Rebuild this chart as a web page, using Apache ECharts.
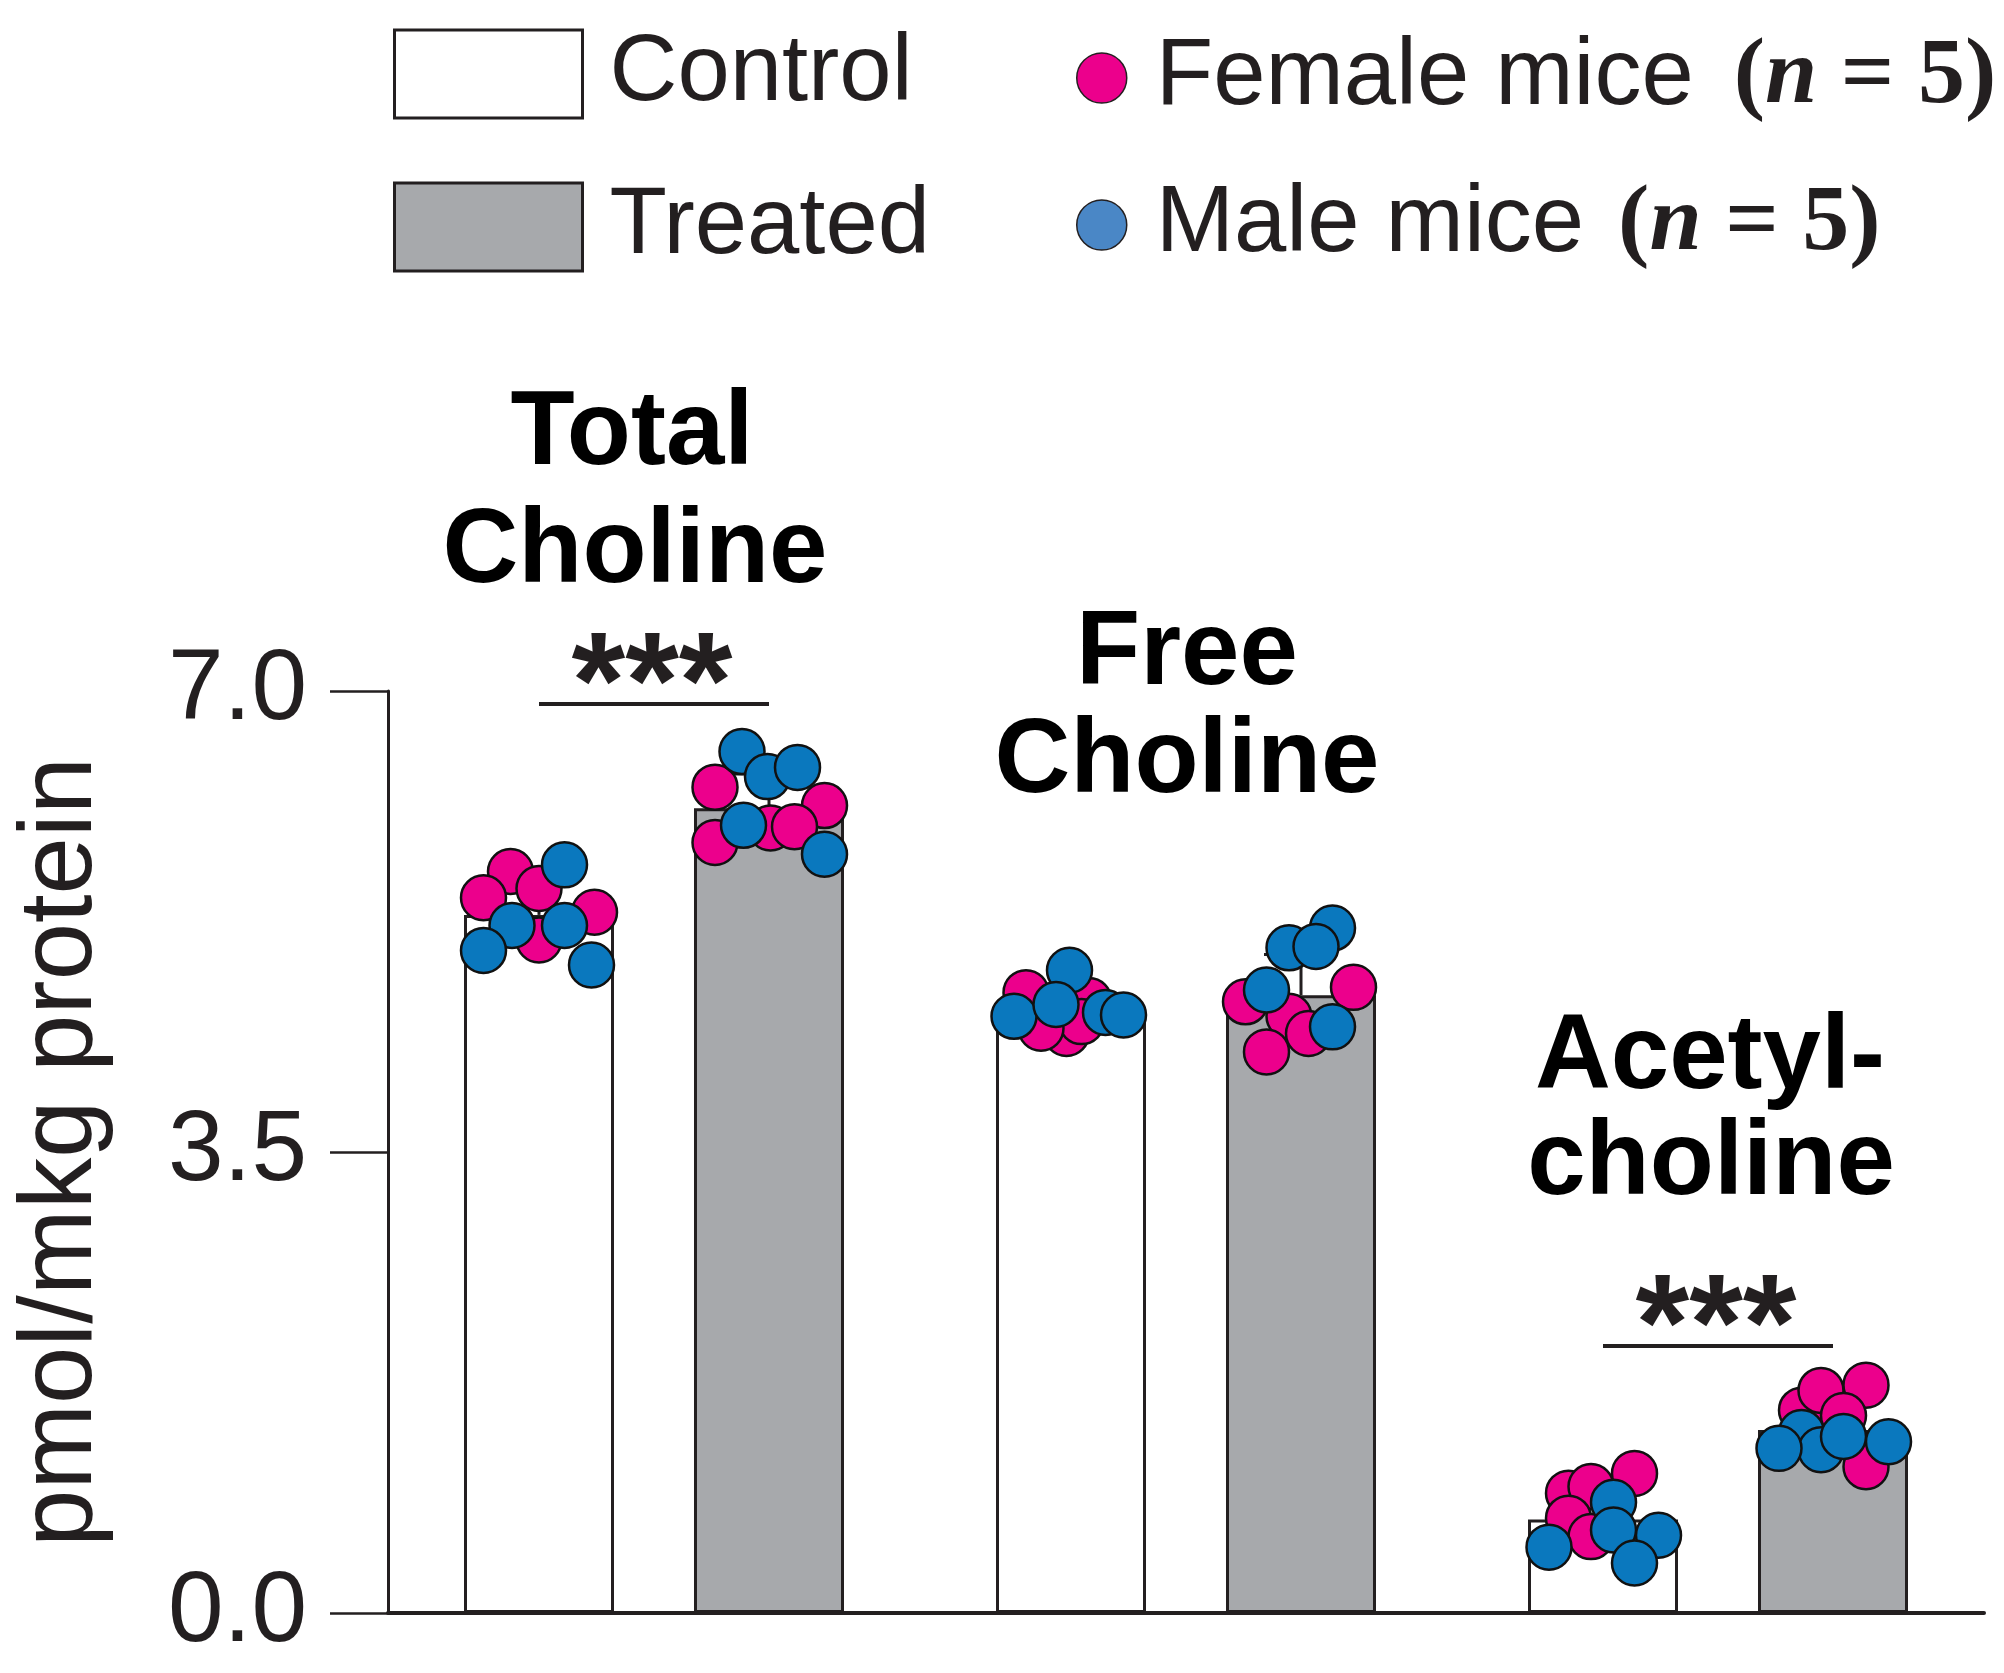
<!DOCTYPE html>
<html><head><meta charset="utf-8">
<script src="https://cdn.jsdelivr.net/npm/echarts@6/dist/echarts.min.js"></script>
<style>html,body{margin:0;padding:0;background:#fff}#c{width:2004px;height:1673px}</style>
</head><body><div id="c"></div>
<script>
// ---------- data ----------
const categories = ['Total Choline', 'Free Choline', 'Acetylcholine'];
const groupTitles = [['Total', 'Choline'], ['Free', 'Choline'], ['Acetyl-', 'choline']];
const yTickValues = [0, 3.5, 7.0];
const controlMean = [5.30, 4.60, 0.71];
const treatedMean = [6.11, 4.69, 1.39];
const controlSD = [0.25, 0.14, 0.22];
const treatedSD = [0.26, 0.31, 0.19];

const femaleControl = [[5.63, 5.43, 5.50, 5.32, 5.11], [4.71, 4.40, 4.65, 4.49, 4.44], [0.91, 0.96, 1.06, 0.72, 0.58]];
const maleControl   = [[5.68, 5.22, 5.22, 5.03, 4.92], [4.88, 4.53, 4.62, 4.56, 4.54], [0.84, 0.63, 0.50, 0.59, 0.38]];
const femaleTreated = [[6.27, 6.13, 5.85, 5.96, 5.97], [4.64, 4.75, 4.53, 4.40, 4.26], [1.54, 1.69, 1.73, 1.50, 1.11]];
const maleTreated   = [[6.54, 6.35, 6.42, 5.98, 5.76], [5.20, 5.05, 5.06, 4.73, 4.45], [1.37, 1.24, 1.25, 1.34, 1.30]];

// horizontal spread of each dot inside its bar (fraction of bar width), as seen in the picture
const femaleControlJitter = [[-0.19, -0.37, 0.00, 0.37, 0.00], [-0.30, -0.03, 0.12, 0.07, -0.20], [-0.23, -0.08, 0.21, -0.23, -0.08]];
const maleControlJitter   = [[0.17, -0.18, 0.17, -0.37, 0.35], [-0.01, -0.38, -0.10, 0.23, 0.35], [0.07, 0.07, -0.36, 0.37, 0.21]];
const femaleTreatedJitter = [[-0.36, 0.37, -0.36, 0.01, 0.17], [-0.37, 0.35, -0.08, 0.05, -0.23], [-0.21, -0.08, 0.22, 0.07, 0.22]];
const maleTreatedJitter   = [[-0.18, -0.01, 0.19, -0.17, 0.37], [0.21, -0.08, 0.10, -0.23, 0.21], [-0.21, -0.08, -0.36, 0.07, 0.37]];

const significance = [{ group: 0, y: 6.90, text: '***' }, { group: 2, y: 2.03, text: '***' }];

// ---------- layout / style ----------
const W = 2004, H = 1673;
const GRID = { left: 388, right: 20, top: 691, bottom: 60 };
const BAR_W = 150, BAR_GAP = 80;
const band = (W - GRID.left - GRID.right) / categories.length;
const half = (BAR_W + BAR_GAP) / 2 / band;     // offset of each bar centre in category units
const barU = BAR_W / band;                      // bar width in category units
const INK = '#231f20';
const SANS = '"Liberation Sans", Arial, Helvetica, sans-serif';
const SERIF = '"Liberation Serif", "Times New Roman", serif';
const PINK = '#ec008c', BLUE = '#0a78be';

function dots(ctrl, ctrlJ, trt, trtJ) {
  const out = [];
  for (let g = 0; g < categories.length; g++) {
    ctrl[g].forEach((v, i) => out.push([g - half + ctrlJ[g][i] * barU, v]));
    trt[g].forEach((v, i) => out.push([g + half + trtJ[g][i] * barU, v]));
  }
  return out;
}
const femaleDots = dots(femaleControl, femaleControlJitter, femaleTreated, femaleTreatedJitter);
const maleDots = dots(maleControl, maleControlJitter, maleTreated, maleTreatedJitter);
const errData = [];
for (let g = 0; g < categories.length; g++) {
  errData.push([g - half, controlMean[g], controlSD[g]]);
  errData.push([g + half, treatedMean[g], treatedSD[g]]);
}

const chart = echarts.init(document.getElementById('c'), null, { renderer: 'canvas', width: W, height: H });

const option = {
  animation: false,
  backgroundColor: '#ffffff',
  grid: { left: GRID.left, right: GRID.right, top: GRID.top, bottom: GRID.bottom, containLabel: false, outerBoundsMode: 'none' },
  legend: [
    {
      orient: 'vertical', left: 388, top: 22, itemWidth: 188, itemHeight: 88, itemGap: 59,
      icon: 'rect', selectedMode: false,
      textStyle: { fontFamily: SANS, fontSize: 94, color: INK, lineHeight: 88, padding: [0, 0, 0, 22] },
      data: [
        { name: 'Control', itemStyle: { color: '#ffffff', borderColor: INK, borderWidth: 3 } },
        { name: 'Treated', itemStyle: { color: '#a7a9ac', borderColor: INK, borderWidth: 3 } }
      ]
    },
    {
      orient: 'vertical', left: 1071, top: 26, itemWidth: 50, itemHeight: 50, itemGap: 53,
      icon: 'circle', selectedMode: false,
      formatter: function (name) {
        return name === 'Female mice'
          ? '{t|Female mice}{pf|(}{i|n}{n| = 5)}'
          : '{t|Male mice}{pm|(}{i|n}{n| = 5)}';
      },
      textStyle: {
        fontFamily: SANS, fontSize: 94, color: INK, lineHeight: 88, padding: [0, 0, 0, 24],
        rich: {
          t: { fontFamily: SANS, fontSize: 94, color: INK, lineHeight: 88 },
          pf: { fontFamily: SERIF, fontSize: 94, fontWeight: 'bold', color: INK, lineHeight: 88, padding: [0, 0, 0, 40] },
          pm: { fontFamily: SERIF, fontSize: 94, fontWeight: 'bold', color: INK, lineHeight: 88, padding: [0, 0, 0, 34] },
          i: { fontFamily: SERIF, fontSize: 94, fontWeight: 'bold', fontStyle: 'italic', color: INK, lineHeight: 88 },
          n: { fontFamily: SERIF, fontSize: 94, fontWeight: 'bold', color: INK, lineHeight: 88 }
        }
      },
      data: [
        { name: 'Female mice', itemStyle: { color: PINK, borderColor: INK, borderWidth: 1.5 } },
        { name: 'Male mice', itemStyle: { color: '#4a87c6', borderColor: INK, borderWidth: 1.5 } }
      ]
    }
  ],
  xAxis: [
    {
      type: 'category', data: categories, gridIndex: 0,
      axisLine: { show: true, onZero: false, lineStyle: { color: INK, width: 4 } },
      axisTick: { show: false }, axisLabel: { show: false }, splitLine: { show: false }
    },
    { type: 'value', min: -0.5, max: categories.length - 0.5, show: false, gridIndex: 0 }
  ],
  yAxis: {
    type: 'value', min: 0, max: 7, interval: 3.5,
    name: 'pmol/mkg protein', nameLocation: 'middle', nameGap: 274,
    nameTextStyle: { fontFamily: SANS, fontSize: 103, color: INK },
    axisLine: { show: true, onZero: false, lineStyle: { color: INK, width: 3 } },
    axisTick: { show: true, inside: false, length: 58, lineStyle: { color: INK, width: 2.5 } },
    axisLabel: {
      margin: 81, fontFamily: SANS, fontSize: 100, color: INK,
      formatter: v => (yTickValues.indexOf(v) >= 0 ? v.toFixed(1) : '')
    },
    splitLine: { show: false }
  },
  series: [
    {
      name: 'Control', type: 'bar', xAxisIndex: 0, data: controlMean, barWidth: BAR_W,
      barGap: (BAR_GAP / BAR_W * 100).toFixed(2) + '%', z: 2, silent: true,
      itemStyle: { color: '#ffffff', borderColor: INK, borderWidth: 3 }
    },
    {
      name: 'Treated', type: 'bar', xAxisIndex: 0, data: treatedMean, barWidth: BAR_W, z: 2, silent: true,
      itemStyle: { color: '#a7a9ac', borderColor: INK, borderWidth: 3 }
    },
    {
      name: 'SD', type: 'custom', xAxisIndex: 1, yAxisIndex: 0, data: errData, z: 3, silent: true,
      renderItem: function (params, api) {
        const base = api.coord([api.value(0), api.value(1)]);
        const top = api.coord([api.value(0), api.value(1) + api.value(2)]);
        return {
          type: 'group', children: [
            { type: 'line', shape: { x1: base[0], y1: base[1], x2: top[0], y2: top[1] }, style: { stroke: INK, lineWidth: 3 } },
            { type: 'line', shape: { x1: top[0] - 37, y1: top[1], x2: top[0] + 37, y2: top[1] }, style: { stroke: INK, lineWidth: 3 } }
          ]
        };
      }
    },
    {
      name: 'Female mice', type: 'scatter', xAxisIndex: 1, yAxisIndex: 0, data: femaleDots, z: 4,
      symbol: 'circle', symbolSize: 45, silent: true,
      itemStyle: { color: PINK, borderColor: '#111', borderWidth: 2.5, opacity: 1 },
      markLine: {
        silent: true, symbol: 'none', label: { show: false },
        lineStyle: { color: INK, width: 4, type: 'solid' },
        data: significance.map(s => [{ coord: [s.group - half, s.y] }, { coord: [s.group + half, s.y] }])
      }
    },
    {
      name: 'Male mice', type: 'scatter', xAxisIndex: 1, yAxisIndex: 0, data: maleDots, z: 5,
      symbol: 'circle', symbolSize: 45, silent: true,
      itemStyle: { color: BLUE, borderColor: '#111', borderWidth: 2.5, opacity: 1 }
    }
  ]
};
chart.setOption(option);

// annotations: group titles and significance stars
const titleLines = [
  [{ x: 632, y: 435 }, { x: 635, y: 553 }],
  [{ x: 1187, y: 655 }, { x: 1187, y: 763 }],
  [{ x: 1710, y: 1059 }, { x: 1711, y: 1165 }]
];
const graphics = [];
groupTitles.forEach((lines, g) => {
  lines.forEach((txt, k) => {
    graphics.push({
      type: 'text', silent: true, z: 10,
      style: {
        text: txt, x: titleLines[g][k].x, y: titleLines[g][k].y,
        font: 'bold 105px ' + SANS, fill: '#000', align: 'center', verticalAlign: 'middle'
      }
    });
  });
});
significance.forEach(s => {
  const p = chart.convertToPixel({ xAxisIndex: 1, yAxisIndex: 0 }, [s.group, s.y]);
  graphics.push({
    type: 'text', silent: true, z: 10,
    style: {
      text: s.text, x: p[0] - 2, y: p[1] - 14,
      font: 'bold 138px ' + SANS, fill: INK, align: 'center', verticalAlign: 'middle'
    }
  });
});
chart.setOption({ graphic: graphics });
</script>
</body></html>
